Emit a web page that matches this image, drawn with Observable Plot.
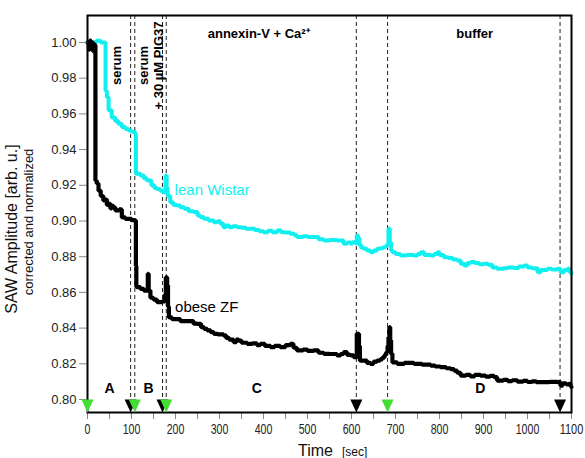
<!DOCTYPE html>
<html>
<head>
<meta charset="utf-8">
<script src="https://cdn.jsdelivr.net/npm/d3@7"></script>
<script src="https://cdn.jsdelivr.net/npm/@observablehq/plot@0.6"></script>
<style>
  body { margin: 0; background: #fff; }
  svg { font-family: "Liberation Sans", Arial, sans-serif; }
</style>
</head>
<body>
<div id="chart"></div>
<script>
// SAW amplitude traces (time in s, corrected and normalized amplitude)
const leanTime = [0, 20, 30, 40, 41, 44, 48, 55, 63, 70, 78, 86, 93, 100, 106, 108.5, 110, 120, 128, 135, 145, 152, 158, 165, 172, 176, 177.5, 180, 182, 188, 195, 203, 211, 220, 230, 241, 250, 256, 264, 275, 287, 295, 302, 309, 315, 322, 330, 340, 350, 360, 370, 380, 390, 400, 410, 420, 431, 440, 450, 461, 470, 476, 490, 500, 514, 525, 537, 550, 567, 582, 590, 598, 602, 608, 612, 615, 618, 622, 628, 635, 643, 650, 658, 665, 672, 677, 681, 684, 687, 690, 693, 700, 711, 725, 742, 750, 757, 765, 780, 788, 795, 800, 810, 820, 830, 840, 848, 856, 863, 871, 880, 890, 901, 910, 920, 931, 945, 955, 969, 980, 992, 1000, 1010, 1023, 1030, 1045, 1055, 1068, 1075, 1083, 1091, 1095, 1100];
const leanValue = [1.000, 1.001, 1.000, 1.000, 0.973, 0.9694, 0.962, 0.958, 0.956, 0.9545, 0.9526, 0.9515, 0.9507, 0.950, 0.9497, 0.9488, 0.9265, 0.9255, 0.924, 0.9227, 0.920, 0.9185, 0.918, 0.917, 0.9161, 0.918, 0.9255, 0.919, 0.914, 0.9105, 0.909, 0.9087, 0.9077, 0.9068, 0.9055, 0.905, 0.9031, 0.9022, 0.9012, 0.9003, 0.8993, 0.8998, 0.8984, 0.8965, 0.8975, 0.8965, 0.897, 0.8965, 0.8962, 0.8956, 0.8956, 0.895, 0.8942, 0.8937, 0.8945, 0.8937, 0.8947, 0.8937, 0.8935, 0.8928, 0.892, 0.891, 0.8915, 0.891, 0.891, 0.8898, 0.8891, 0.8893, 0.8891, 0.8872, 0.888, 0.8872, 0.8881, 0.8875, 0.8919, 0.8905, 0.8865, 0.885, 0.8844, 0.8835, 0.8825, 0.8835, 0.8844, 0.8848, 0.8853, 0.8858, 0.887, 0.8956, 0.888, 0.8835, 0.8825, 0.8815, 0.8807, 0.881, 0.8807, 0.8815, 0.8825, 0.881, 0.8807, 0.8815, 0.8825, 0.881, 0.8797, 0.8793, 0.8785, 0.8779, 0.876, 0.8751, 0.8765, 0.877, 0.8765, 0.8758, 0.876, 0.8755, 0.874, 0.8733, 0.8735, 0.874, 0.8737, 0.8745, 0.8751, 0.874, 0.8735, 0.8713, 0.8725, 0.8733, 0.8728, 0.8733, 0.8713, 0.8725, 0.8733, 0.8715, 0.8704];

const obeseTime = [0, 3, 5, 8, 10, 13, 15, 17, 18, 21, 25, 30, 36, 40, 44, 48, 52, 55, 59, 63, 67, 72, 78, 86, 93, 100, 106, 110, 111, 120, 128, 135, 137, 139, 143, 150, 158, 165, 170, 176, 178, 181, 183, 185, 192, 203, 211, 234, 241, 249, 258, 265, 272, 280, 287, 296, 309, 315, 322, 332, 338, 344, 350, 363, 375, 385, 393, 403, 416, 425, 438, 450, 461, 468, 476, 490, 500, 514, 525, 537, 550, 567, 575, 582, 590, 598, 605, 612, 617, 619, 628, 635, 643, 650, 658, 665, 670, 675, 679, 682, 684, 686, 688, 690, 693, 704, 720, 742, 760, 780, 790, 802, 815, 825, 833, 840, 848, 860, 870, 880, 893, 905, 915, 924, 931, 945, 955, 965, 977, 990, 1000, 1010, 1020, 1037, 1050, 1068, 1075, 1080, 1088, 1094, 1098, 1100];
const obeseValue = [1.000, 0.996, 1.001, 0.997, 1.000, 0.995, 0.999, 0.9985, 0.9227, 0.921, 0.917, 0.914, 0.9115, 0.912, 0.909, 0.9096, 0.907, 0.9085, 0.9077, 0.906, 0.906, 0.9065, 0.902, 0.9012, 0.9012, 0.9005, 0.9003, 0.875, 0.863, 0.862, 0.861, 0.861, 0.8704, 0.861, 0.857, 0.856, 0.8545, 0.8545, 0.855, 0.859, 0.8685, 0.864, 0.852, 0.846, 0.845, 0.845, 0.8439, 0.8439, 0.8425, 0.8424, 0.8405, 0.8396, 0.8387, 0.8377, 0.8368, 0.8365, 0.8359, 0.8345, 0.8335, 0.8321, 0.8335, 0.833, 0.8318, 0.8312, 0.8315, 0.8305, 0.8312, 0.830, 0.8293, 0.830, 0.8293, 0.8305, 0.8312, 0.829, 0.8275, 0.828, 0.8272, 0.8275, 0.8262, 0.8256, 0.8255, 0.8247, 0.8255, 0.8265, 0.825, 0.8247, 0.8237, 0.8368, 0.830, 0.8218, 0.8218, 0.8205, 0.820, 0.8212, 0.8218, 0.8225, 0.8235, 0.825, 0.8265, 0.830, 0.835, 0.8405, 0.833, 0.8256, 0.8208, 0.820, 0.8205, 0.820, 0.8195, 0.819, 0.8185, 0.8181, 0.8175, 0.817, 0.8162, 0.815, 0.8134, 0.8138, 0.813, 0.8138, 0.8134, 0.8128, 0.8132, 0.8125, 0.8106, 0.811, 0.8103, 0.8108, 0.810, 0.8104, 0.8098, 0.8102, 0.8097, 0.8097, 0.8099, 0.8097, 0.8078, 0.809, 0.8085, 0.8088, 0.8073, 0.807];

// solution changes (dashed lines) and pump markers
const changeTimes = [98, 107.5, 170.5, 179, 611, 682, 1074];
const stopTimes = [98, 170.5, 611, 1074];
const startTimes = [0, 107.5, 179, 682];

// phase letters
const phaseLetters = ["A", "B", "C", "D"];
const phaseTimes = [50, 139, 385, 893];

// solution labels along the top
const solutionLabels = ["serum", "serum\n+ 30 µM PIG37"];
const solutionTimes = [52, 114];
const bufferLabels = ["annexin-V + Ca²⁺", "buffer"];
const bufferTimes = [389, 880];

// trace labels
const traceNames = ["lean Wistar", "obese ZF"];
const traceNameTimes = [198, 199];
const traceNameValues = [0.917, 0.8516];
const traceColors = ["#10f0f0", "#000000"];

const yTicks = [0.80, 0.82, 0.84, 0.86, 0.88, 0.90, 0.92, 0.94, 0.96, 0.98, 1.00];
const xTicks = [0, 100, 200, 300, 400, 500, 600, 700, 800, 900, 1000, 1100];
const xMinorTicks = d3.range(0, 1101, 50);

const lean = leanTime.map((t, i) => ({t, v: leanValue[i]}));
const obese = obeseTime.map((t, i) => ({t, v: obeseValue[i]}));
const names = traceNames.map((name, i) => ({name, t: traceNameTimes[i], v: traceNameValues[i], color: traceColors[i]}));
const phases = phaseLetters.map((label, i) => ({label, t: phaseTimes[i]}));
const solutions = solutionLabels.map((label, i) => ({label, t: solutionTimes[i]}));
const buffers = bufferLabels.map((label, i) => ({label, t: bufferTimes[i]}));

// downward triangle with its tip on the anchor point
const triangleDown = {
  draw(context) {
    context.moveTo(-6, -13);
    context.lineTo(6, -13);
    context.lineTo(0, 0);
    context.closePath();
  }
};

const chart = Plot.plot({
  width: 585,
  height: 458,
  marginLeft: 87,
  marginRight: 14,
  marginTop: 15,
  marginBottom: 46,
  x: {domain: [0, 1100]},
  y: {domain: [0.79272, 1.01513]},
  style: {fontFamily: "'Liberation Sans', Arial, sans-serif", color: "#111", background: "white"},
  marks: [
    Plot.ruleX(changeTimes, {x: d => d, stroke: "#222", strokeWidth: 1, strokeDasharray: "4,3", insetBottom: 13}),
    Plot.line(lean, {x: "t", y: "v", stroke: traceColors[0], strokeWidth: 4, curve: "step-after", strokeLinejoin: "miter"}),
    Plot.line(obese, {x: "t", y: "v", stroke: traceColors[1], strokeWidth: 4.2, curve: "step-after", strokeLinejoin: "miter"}),
    Plot.axisY(yTicks, {tickSize: 8, tickPadding: 3, stroke: "#888", fill: "#222", fontSize: 13, tickFormat: d => d.toFixed(2), label: null}),
    Plot.axisX(xMinorTicks, {tickSize: 7, stroke: "#888", text: null, label: null}),
    Plot.axisX(xTicks, {tickSize: 0, tickPadding: 12, fill: "#222", fontSize: 14, tickFormat: d => String(d), label: null}),
    Plot.frame({stroke: "black", strokeWidth: 2}),
    Plot.dot(stopTimes, {x: d => d, frameAnchor: "bottom", symbol: triangleDown, fill: "black", stroke: "none"}),
    Plot.dot(startTimes, {x: d => d, frameAnchor: "bottom", symbol: triangleDown, fill: "#44dd33", stroke: "none"}),
    Plot.text(phases, {x: "t", text: "label", frameAnchor: "bottom", dy: -19.5, fontSize: 14, fontWeight: "bold", fill: "black"}),
    Plot.text(solutions, {x: "t", text: "label", frameAnchor: "top", dy: 50, rotate: -90, fontSize: 13, fontWeight: "bold", lineHeight: 1.15, fill: "black"}),
    Plot.text(buffers, {x: "t", text: "label", frameAnchor: "top", dy: 13, fontSize: 13, fontWeight: "bold", fill: "black"}),
    Plot.text(names, {x: "t", y: "v", text: "name", fill: "color", textAnchor: "start", fontSize: 15})
  ]
});

const svg = d3.select(chart);

// the time labels are set in a narrow face
svg.selectAll('g[aria-label="x-axis tick label"] text').each(function() {
  const label = d3.select(this);
  const n = label.text().length;
  label.attr("textLength", 5.9 * n).attr("lengthAdjust", "spacingAndGlyphs");
});

// axis titles
svg.append("text")
  .attr("x", 298).attr("y", 456)
  .attr("text-anchor", "start")
  .attr("font-size", 16).attr("fill", "#111")
  .text("Time");
svg.append("text")
  .attr("x", 342).attr("y", 456)
  .attr("text-anchor", "start")
  .attr("font-size", 12).attr("fill", "#111")
  .text("[sec]");
svg.append("text")
  .attr("transform", "translate(17.3,229) rotate(-90)")
  .attr("text-anchor", "middle")
  .attr("font-size", 16).attr("fill", "#111")
  .text("SAW Amplitude [arb. u.]");
svg.append("text")
  .attr("transform", "translate(33.3,222) rotate(-90)")
  .attr("text-anchor", "middle")
  .attr("font-size", 13).attr("fill", "#111")
  .text("corrected and normalized");

document.getElementById("chart").appendChild(chart);
</script>
</body>
</html>
